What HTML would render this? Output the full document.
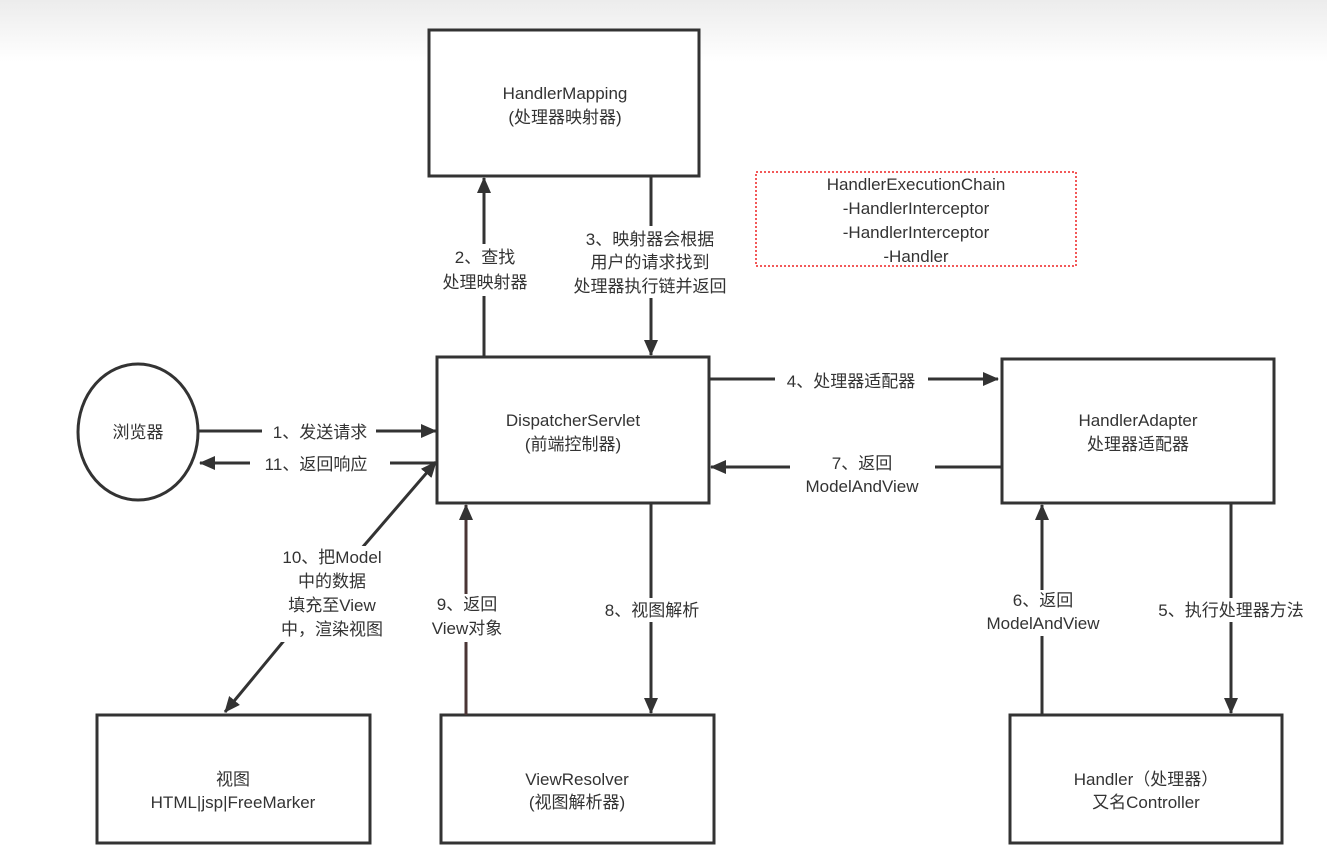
<!DOCTYPE html>
<html><head><meta charset="utf-8"><style>
html,body{margin:0;padding:0;background:#fff;}
svg{display:block;}
text{font-family:"Liberation Sans","Noto Sans CJK SC",sans-serif;font-size:17px;fill:#333;}
</style></head><body>
<svg width="1327" height="854" viewBox="0 0 1327 854" xmlns="http://www.w3.org/2000/svg">
<defs>
<linearGradient id="g" x1="0" y1="0" x2="0" y2="1"><stop offset="0" stop-color="#ececec"/><stop offset="1" stop-color="#fff"/></linearGradient>
<marker id="ah" markerWidth="16" markerHeight="14" refX="15" refY="7" orient="auto" markerUnits="userSpaceOnUse"><path d="M0,0 L16,7 L0,14 z" fill="#333"/></marker>
</defs>
<rect x="0" y="0" width="1327" height="62" fill="url(#g)"/>
<g fill="#fff" stroke="#333" stroke-width="3">
<rect x="429" y="30" width="270" height="146"/>
<rect x="437" y="357" width="272" height="146"/>
<rect x="1002" y="359" width="272" height="144"/>
<rect x="97" y="715" width="273" height="128"/>
<rect x="441" y="715" width="273" height="128"/>
<rect x="1010" y="715" width="272" height="128"/>
<ellipse cx="138" cy="432" rx="60" ry="68"/>
</g>
<rect x="756" y="172" width="320" height="94" fill="none" stroke="#e22" stroke-width="1.5" stroke-dasharray="2,2"/>
<g stroke="#333" stroke-width="3" fill="none">
<line x1="484" y1="357" x2="484" y2="178" marker-end="url(#ah)"/>
<line x1="651" y1="176" x2="651" y2="355" marker-end="url(#ah)"/>
<line x1="198" y1="431" x2="436" y2="431" marker-end="url(#ah)"/>
<line x1="437" y1="463" x2="200" y2="463" marker-end="url(#ah)"/>
<line x1="709" y1="379" x2="998" y2="379" marker-end="url(#ah)"/>
<line x1="1002" y1="467" x2="711" y2="467" marker-end="url(#ah)"/>
<line x1="330" y1="585" x2="436" y2="462" marker-end="url(#ah)"/>
<line x1="330" y1="585" x2="225" y2="712" marker-end="url(#ah)"/>
<line x1="466" y1="715" x2="466" y2="505" stroke="#4a3535" marker-end="url(#ah)"/>
<line x1="651" y1="503" x2="651" y2="713" marker-end="url(#ah)"/>
<line x1="1042" y1="715" x2="1042" y2="505" marker-end="url(#ah)"/>
<line x1="1231" y1="503" x2="1231" y2="713" marker-end="url(#ah)"/>
</g>
<g fill="#fff">
<rect x="437" y="244" width="96" height="52"/>
<rect x="562" y="226" width="178" height="72"/>
<rect x="262" y="420" width="114" height="22"/>
<rect x="250" y="452" width="140" height="22"/>
<rect x="775" y="368" width="153" height="22"/>
<rect x="790" y="450" width="145" height="48"/>
<rect x="268" y="546" width="128" height="96"/>
<rect x="428" y="594" width="80" height="48"/>
<rect x="596" y="598" width="112" height="24"/>
<rect x="970" y="590" width="146" height="46"/>
<rect x="1145" y="598" width="172" height="24"/>
</g>
<g text-anchor="middle">
<text x="565" y="99">HandlerMapping</text><text x="565" y="123">(处理器映射器)</text>
<text x="573" y="426">DispatcherServlet</text><text x="573" y="450">(前端控制器)</text>
<text x="1138" y="426">HandlerAdapter</text><text x="1138" y="450">处理器适配器</text>
<text x="233" y="785">视图</text><text x="233" y="808">HTML|jsp|FreeMarker</text>
<text x="577" y="785">ViewResolver</text><text x="577" y="808">(视图解析器)</text>
<text x="1146" y="785">Handler（处理器）</text><text x="1146" y="808">又名Controller</text>
<text x="138" y="438">浏览器</text>
<text x="916" y="190">HandlerExecutionChain</text>
<text x="916" y="214">-HandlerInterceptor</text>
<text x="916" y="238">-HandlerInterceptor</text>
<text x="916" y="262">-Handler</text>
<text x="485" y="263">2、查找</text><text x="485" y="288">处理映射器</text>
<text x="650" y="245">3、映射器会根据</text><text x="650" y="268">用户的请求找到</text><text x="650" y="292">处理器执行链并返回</text>
<text x="320" y="438">1、发送请求</text>
<text x="316" y="470">11、返回响应</text>
<text x="851" y="387">4、处理器适配器</text>
<text x="862" y="469">7、返回</text><text x="862" y="492">ModelAndView</text>
<text x="332" y="563">10、把Model</text><text x="332" y="587">中的数据</text><text x="332" y="611">填充至View</text><text x="332" y="635">中，渲染视图</text>
<text x="467" y="610">9、返回</text><text x="467" y="634">View对象</text>
<text x="652" y="616">8、视图解析</text>
<text x="1043" y="606">6、返回</text><text x="1043" y="629">ModelAndView</text>
<text x="1231" y="616">5、执行处理器方法</text>
</g>
</svg>
</body></html>
